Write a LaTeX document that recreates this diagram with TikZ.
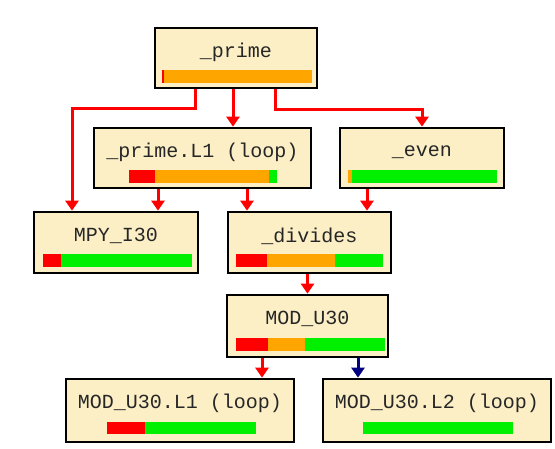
\documentclass[tikz,border=0pt]{standalone}
\usepackage{fontspec}
\newfontfamily\boxfont{Liberation Mono}
\usetikzlibrary{arrows.meta}
\definecolor{boxfill}{HTML}{FCEFC6}
\definecolor{bred}{HTML}{FF0000}
\definecolor{borange}{HTML}{FFA500}
\definecolor{bgreen}{HTML}{00F000}
\definecolor{bnavy}{HTML}{000080}
\tikzset{
  fnbox/.style={draw=black, line width=2.7pt, fill=boxfill, rectangle, inner sep=0pt},
  lbl/.style={font=\boxfont\fontsize{20}{20}\selectfont, text=black!85, inner sep=0pt},
  call/.style={draw=bred, line width=3pt, -{Triangle[width=13pt,length=10pt]}},
  callb/.style={call, draw=bnavy},
}
\begin{document}
\begin{tikzpicture}[x=1pt,y=-1pt]
\useasboundingbox (0,0) rectangle (555,448);
% boxes
\node[fnbox, minimum width=162pt, minimum height=60pt] (prime) at (236,58) {};
\node[fnbox, minimum width=217pt, minimum height=60pt] (loop1) at (202.5,158) {};
\node[fnbox, minimum width=164pt, minimum height=60pt] (even) at (422,158) {};
\node[fnbox, minimum width=164pt, minimum height=61pt] (mpy) at (116,242.5) {};
\node[fnbox, minimum width=163pt, minimum height=61pt] (div) at (309.5,242.5) {};
\node[fnbox, minimum width=161pt, minimum height=62pt] (mod) at (307.5,326) {};
\node[fnbox, minimum width=228pt, minimum height=63pt] (modl1) at (180,410.5) {};
\node[fnbox, minimum width=228pt, minimum height=63pt] (modl2) at (437,410.5) {};
% labels
\node[lbl] (tprime) at (236,52) {\_prime};
\node[lbl] (tloop1) at (202.5,152) {\_prime.L1 (loop)};
\node[lbl] (teven) at (422,152) {\_even};
\node[lbl] (tmpy) at (116,236) {MPY\_I30};
\node[lbl] (tdiv) at (309.5,236) {\_divides};
\node[lbl] (tmod) at (307.5,319) {MOD\_U30};
\node[lbl] (tmodl1) at (180,403) {MOD\_U30.L1 (loop)};
\node[lbl] (tmodl2) at (437,403) {MOD\_U30.L2 (loop)};
% bars
\fill[bred] (162,70) rectangle (164,83);
\fill[borange] (164,70) rectangle (312,83);
\fill[bred] (129,170) rectangle (155,183);
\fill[borange] (155,170) rectangle (269,183);
\fill[bgreen] (269,170) rectangle (277,183);
\fill[borange] (348,170) rectangle (352,183);
\fill[bgreen] (352,170) rectangle (497,183);
\fill[bred] (43,254) rectangle (61,267);
\fill[bgreen] (61,254) rectangle (192,267);
\fill[bred] (236,254) rectangle (267,267);
\fill[borange] (267,254) rectangle (335,267);
\fill[bgreen] (335,254) rectangle (383,267);
\fill[bred] (236,338) rectangle (268,351);
\fill[borange] (268,338) rectangle (305,351);
\fill[bgreen] (305,338) rectangle (385,351);
\fill[bred] (107,422) rectangle (145,434);
\fill[bgreen] (145,422) rectangle (256,434);
\fill[bgreen] (363,422) rectangle (513,434);
% connectors
\draw[call] ([xshift=-41pt]prime.south) -- ++(0,19) -| ([xshift=-44pt]mpy.north);
\draw[call] ([xshift=-3pt]prime.south) -- ([xshift=-3pt]prime.south |- loop1.north);
\draw[call] ([xshift=39pt]prime.south) -- ++(0,20) -| (even.north);
\draw[call] ([xshift=-44.5pt]loop1.south) -- ([xshift=-44.5pt]loop1.south |- mpy.north);
\draw[call] ([xshift=44.5pt]loop1.south) -- ([xshift=44.5pt]loop1.south |- div.north);
\draw[call] ([xshift=-55pt]even.south) -- ([xshift=-55pt]even.south |- div.north);
\draw[call] (div.south -| mod.north) -- (mod.north);
\draw[call] ([xshift=-45.5pt]mod.south) -- ([xshift=-45.5pt]mod.south |- modl1.north);
\draw[callb] ([xshift=50.5pt]mod.south) -- ([xshift=50.5pt]mod.south |- modl2.north);
\end{tikzpicture}
\end{document}
